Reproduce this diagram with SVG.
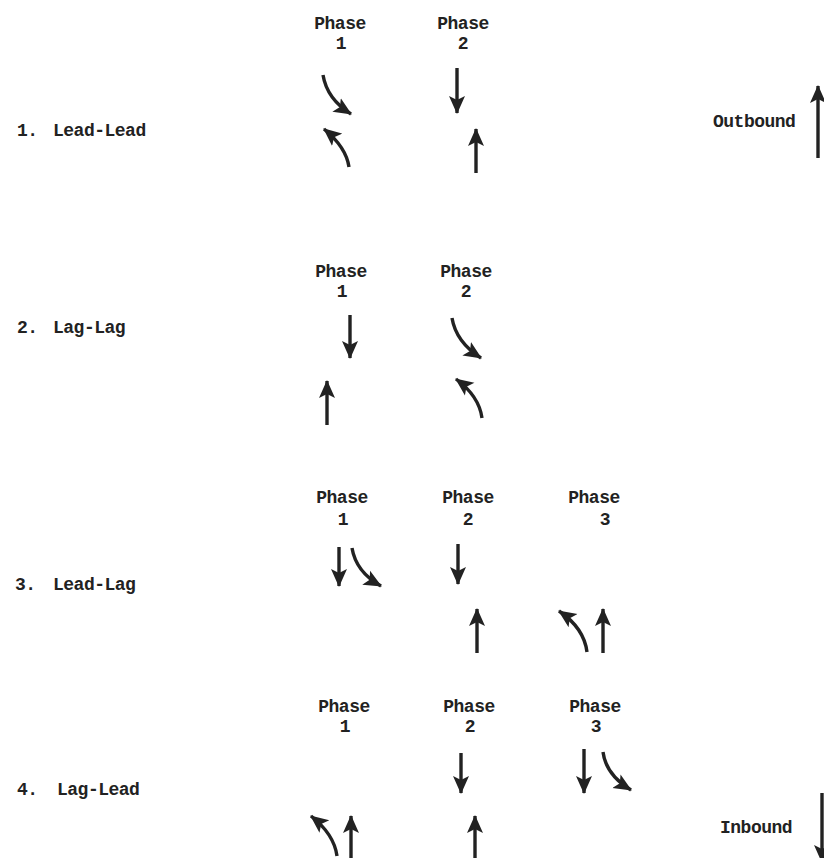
<svg xmlns="http://www.w3.org/2000/svg" width="824" height="858" viewBox="0 0 824 858">
  <style>
    .t { font-family: "Liberation Mono", "DejaVu Sans Mono", monospace; font-weight: bold; font-size: 18px; letter-spacing: -0.5px; fill: #222; }
    .c { text-anchor: middle; }
    .mv { fill: none; stroke: #222; stroke-width: 3.4; marker-end: url(#head); }
  </style>
  <defs>
    <!-- solid arrowhead for each movement -->
    <marker id="head" viewBox="0 0 18 18" refX="17" refY="9" markerWidth="18" markerHeight="18" markerUnits="userSpaceOnUse" orient="auto">
      <path d="M0,1 L18,9 L0,17 L4,9 Z" fill="#222"/>
    </marker>
  </defs>

  <rect width="824" height="858" fill="#fff"/>

  <!-- 1. Lead-Lead -->
  <g id="row1-label">
    <text class="t" x="17" y="136">1.</text>
    <text class="t" x="53" y="136">Lead-Lead</text>
  </g>
  <g id="row1-phase1">
    <text class="t c" x="340" y="29">Phase</text>
    <text class="t c" x="341" y="49">1</text>
    <path class="mv" d="M323,75 Q327,99 351,114"/>
    <path class="mv" d="M349,167 Q346,147 324,129"/>
  </g>
  <g id="row1-phase2">
    <text class="t c" x="463" y="29">Phase</text>
    <text class="t c" x="463" y="49">2</text>
    <path class="mv" d="M457,68 V113"/>
    <path class="mv" d="M476,173 V129"/>
  </g>

  <!-- 2. Lag-Lag -->
  <g id="row2-label">
    <text class="t" x="17" y="333">2.</text>
    <text class="t" x="53" y="333">Lag-Lag</text>
  </g>
  <g id="row2-phase1">
    <text class="t c" x="341" y="277">Phase</text>
    <text class="t c" x="342" y="297">1</text>
    <path class="mv" d="M350,315 V358"/>
    <path class="mv" d="M327,425 V381"/>
  </g>
  <g id="row2-phase2">
    <text class="t c" x="466" y="277">Phase</text>
    <text class="t c" x="466" y="297">2</text>
    <path class="mv" d="M452,318 Q456,342 481,358"/>
    <path class="mv" d="M482,418 Q479,396 456,379"/>
  </g>

  <!-- 3. Lead-Lag -->
  <g id="row3-label">
    <text class="t" x="15" y="590">3.</text>
    <text class="t" x="53" y="590">Lead-Lag</text>
  </g>
  <g id="row3-phase1">
    <text class="t c" x="342" y="503">Phase</text>
    <text class="t c" x="343" y="525">1</text>
    <path class="mv" d="M339,547 V586"/>
    <path class="mv" d="M352,548 Q356,572 381,586"/>
  </g>
  <g id="row3-phase2">
    <text class="t c" x="468" y="503">Phase</text>
    <text class="t c" x="468" y="525">2</text>
    <path class="mv" d="M458,544 V584"/>
    <path class="mv" d="M477,653 V609"/>
  </g>
  <g id="row3-phase3">
    <text class="t c" x="594" y="503">Phase</text>
    <text class="t c" x="605" y="525">3</text>
    <path class="mv" d="M587,652 Q584,628 559,611"/>
    <path class="mv" d="M603,653 V609"/>
  </g>

  <!-- 4. Lag-Lead -->
  <g id="row4-label">
    <text class="t" x="17" y="795">4.</text>
    <text class="t" x="57" y="795">Lag-Lead</text>
  </g>
  <g id="row4-phase1">
    <text class="t c" x="344" y="712">Phase</text>
    <text class="t c" x="345" y="732">1</text>
    <path class="mv" d="M337,856 Q334,834 311,816"/>
    <path class="mv" d="M351,858 V816"/>
  </g>
  <g id="row4-phase2">
    <text class="t c" x="469" y="712">Phase</text>
    <text class="t c" x="470" y="732">2</text>
    <path class="mv" d="M461,753 V793"/>
    <path class="mv" d="M475,858 V816"/>
  </g>
  <g id="row4-phase3">
    <text class="t c" x="595" y="712">Phase</text>
    <text class="t c" x="596" y="732">3</text>
    <path class="mv" d="M584,749 V793"/>
    <path class="mv" d="M603,752 Q606,775 631,790"/>
  </g>

  <!-- direction keys -->
  <g id="outbound">
    <text class="t" x="713" y="127">Outbound</text>
    <path class="mv" d="M818,158 V86"/>
  </g>
  <g id="inbound">
    <text class="t" x="720" y="833">Inbound</text>
    <path class="mv" d="M822,793 V862"/>
  </g>
</svg>
